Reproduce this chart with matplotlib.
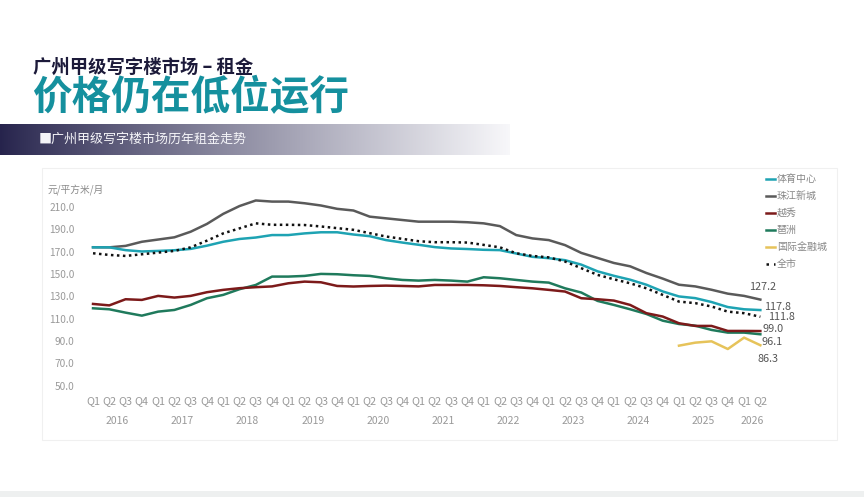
import numpy as np
import matplotlib
matplotlib.use("Agg")
import matplotlib.pyplot as plt
from matplotlib.lines import Line2D

plt.rcParams['font.family'] = ['Noto Sans CJK SC', 'DejaVu Sans']

# quarters 2016 Q1 .. 2026 Q2
quarters = ['Q1', 'Q2', 'Q3', 'Q4'] * 10 + ['Q1', 'Q2']
years = ['2016', '2017', '2018', '2019', '2020', '2021', '2022', '2023',
         '2024', '2025', '2026']

tiyu = [174.0, 174.0, 171.5, 170.3, 170.8, 171.4, 172.6, 175.5, 179.0, 181.5,
        182.8, 185.0, 185.0, 186.5, 187.5, 187.5, 185.5, 184.0, 180.5, 178.3,
        176.3, 174.2, 173.0, 172.5, 171.8, 171.5, 168.5, 165.5, 164.3, 162.5,
        158.5, 152.5, 148.5, 145.0, 140.5, 134.5, 130.0, 128.5, 125.0, 120.5,
        118.5, 117.8]
zhujiang = [174.1, 174.0, 175.3, 179.0, 181.0, 183.0, 188.0, 195.0, 204.0,
            211.0, 216.0, 215.0, 215.0, 213.5, 211.5, 208.5, 207.0, 201.5,
            200.0, 198.5, 197.0, 197.0, 197.0, 196.5, 195.5, 193.0, 185.0,
            182.0, 180.5, 176.0, 169.0, 164.5, 160.0, 157.0, 151.0, 146.0,
            140.5, 139.0, 136.0, 132.5, 130.5, 127.2]
yuexiu = [123.3, 122.0, 127.5, 126.9, 130.5, 129.0, 130.5, 133.8, 135.9, 137.4,
          138.3, 139.0, 141.8, 143.3, 142.7, 139.4, 138.9, 139.4, 139.7, 139.4,
          139.0, 140.3, 140.3, 140.3, 140.0, 139.4, 138.3, 137.3, 135.9, 134.4,
          128.4, 127.5, 126.3, 122.4, 115.0, 112.0, 106.0, 103.6, 103.6, 99.1,
          99.1, 99.0]
pazhou = [119.4, 118.5, 115.5, 112.8, 116.4, 117.9, 122.4, 128.4, 131.4, 136.5,
          140.3, 147.8, 147.8, 148.4, 150.2, 149.9, 149.0, 148.4, 146.3, 144.8,
          144.2, 144.8, 144.2, 143.3, 147.2, 146.3, 144.8, 143.3, 142.4, 137.3,
          133.5, 126.0, 122.4, 118.5, 114.3, 108.3, 105.3, 103.8, 100.0, 97.6,
          97.6, 96.1]
ifc_start = 36
ifc = [85.9, 88.6, 89.8, 82.9, 93.1, 86.3]
quanshi = [168.7, 167.2, 166.3, 167.8, 169.3, 170.8, 174.0, 180.0, 186.5,
           191.0, 195.5, 194.2, 194.2, 194.0, 192.7, 191.2, 189.7, 186.7,
           183.7, 181.6, 179.5, 178.6, 178.6, 178.3, 176.2, 174.0, 168.7,
           166.3, 165.0, 161.3, 155.3, 149.3, 145.4, 141.8, 137.3, 131.4,
           125.4, 124.0, 121.0, 116.4, 115.0, 111.8]

W, H = 864, 497
fig = plt.figure(figsize=(W / 100, H / 100), dpi=100)
fig.patch.set_facecolor('white')

# background layer for banner + panel
bg = fig.add_axes([0, 0, 1, 1])
bg.set_xlim(0, W)
bg.set_ylim(H, 0)
bg.axis('off')
grad = np.linspace(0, 1, 256).reshape(1, -1)
c0 = np.array([0.15, 0.14, 0.30])
c1 = np.array([0.97, 0.97, 0.98])
t = grad[..., None] ** 0.9
img = c0 * (1 - t) + c1 * t
bg.imshow(img, extent=[0, 510, 155, 124], aspect='auto', zorder=1)
bg.add_patch(plt.Rectangle((42, 168), 795, 272, facecolor='white',
                           edgecolor='#f0f0f0', lw=0.8, zorder=1))
bg.add_patch(plt.Rectangle((0, 491), W, 6, facecolor='#eef0f0',
                           edgecolor='none', zorder=1))

bg.text(33, 67, '广州甲级写字楼市场 – 租金', fontsize=13.2, fontweight='bold',
        color='#1c1a3a', va='center', ha='left')
bg.text(32, 98, '价格仍在低位运行', fontsize=28.5, fontweight='black',
        color='#15909e', va='center', ha='left')
bg.text(39, 139, '■广州甲级写字楼市场历年租金走势', fontsize=9.4,
        color='#f4f4f8', va='center', ha='left')
bg.text(48, 190, '元/平方米/月', fontsize=7, color='#8a8a8a',
        va='center', ha='left')

# chart axes
ax = fig.add_axes([80 / W, (H - 395) / H, 695 / W, 200 / H])
ax.patch.set_alpha(0)
x = np.arange(len(quarters))

ax.plot(x, zhujiang, color='#5a5a5a', lw=1.8, label='珠江新城')
ax.plot(x, tiyu, color='#1ea3b3', lw=1.8, label='体育中心')
ax.plot(x, quanshi, color='#111111', lw=1.8, linestyle=(0, (1, 1.4)),
        label='全市')
ax.plot(x, pazhou, color='#1f7a5c', lw=1.8, label='琶洲')
ax.plot(x, yuexiu, color='#7c1a1a', lw=1.8, label='越秀')
x_ifc = x[ifc_start:ifc_start + len(ifc)]
ax.plot(x_ifc, ifc, color='#e6c35a', lw=1.8, label='国际金融城')

ax.set_xlim(-0.8, 41.9)
ax.set_ylim(41.7, 220.9)
ax.set_yticks(np.arange(50, 211, 20))
ax.set_yticklabels([f'{v:.1f}' for v in np.arange(50, 211, 20)])
ax.set_xticks(x)
ax.set_xticklabels(quarters)
ax.tick_params(length=0, labelsize=7.3, labelcolor='#999999')
ax.tick_params(axis='x', labelsize=7.8, pad=1)
ax.tick_params(axis='y', pad=4)
for s in ax.spines.values():
    s.set_visible(False)

for k, yr in enumerate(years):
    mid = k * 4 + 1.5 if yr != '2026' else 40.5
    ax.text(mid, -0.13, yr, transform=ax.get_xaxis_transform(),
            fontsize=7.5, color='#999999', ha='center', va='center')

# end value labels
ends = [(zhujiang[-1], (2, 13)), (tiyu[-1], (17, 3)),
        (quanshi[-1], (21, 0)), (yuexiu[-1], (13, 2)),
        (pazhou[-1], (12, -8)), (ifc[-1], (8, -14))]
for val, off in ends:
    ax.annotate(f'{val:.1f}', (x[-1], val), xytext=off,
                textcoords='offset pixels', fontsize=7.8, color='#555555',
                ha='center', va='center')

handles = [Line2D([], [], color='#1ea3b3', lw=1.8),
           Line2D([], [], color='#5a5a5a', lw=1.8),
           Line2D([], [], color='#7c1a1a', lw=1.8),
           Line2D([], [], color='#1f7a5c', lw=1.8),
           Line2D([], [], color='#e6c35a', lw=1.8),
           Line2D([], [], color='#111111', lw=1.8, linestyle=(0, (1, 2)))]
labels = ['体育中心', '珠江新城', '越秀', '琶洲', '国际金融城', '全市']
fig.legend(handles, labels, loc='upper left',
           bbox_to_anchor=(766 / W, (H - 174) / H), frameon=False,
           fontsize=7.2, labelcolor='#888888', handlelength=0.9,
           handletextpad=0.2, labelspacing=0.7, borderaxespad=0,
           borderpad=0)

fig.savefig('out.png', dpi=100)
